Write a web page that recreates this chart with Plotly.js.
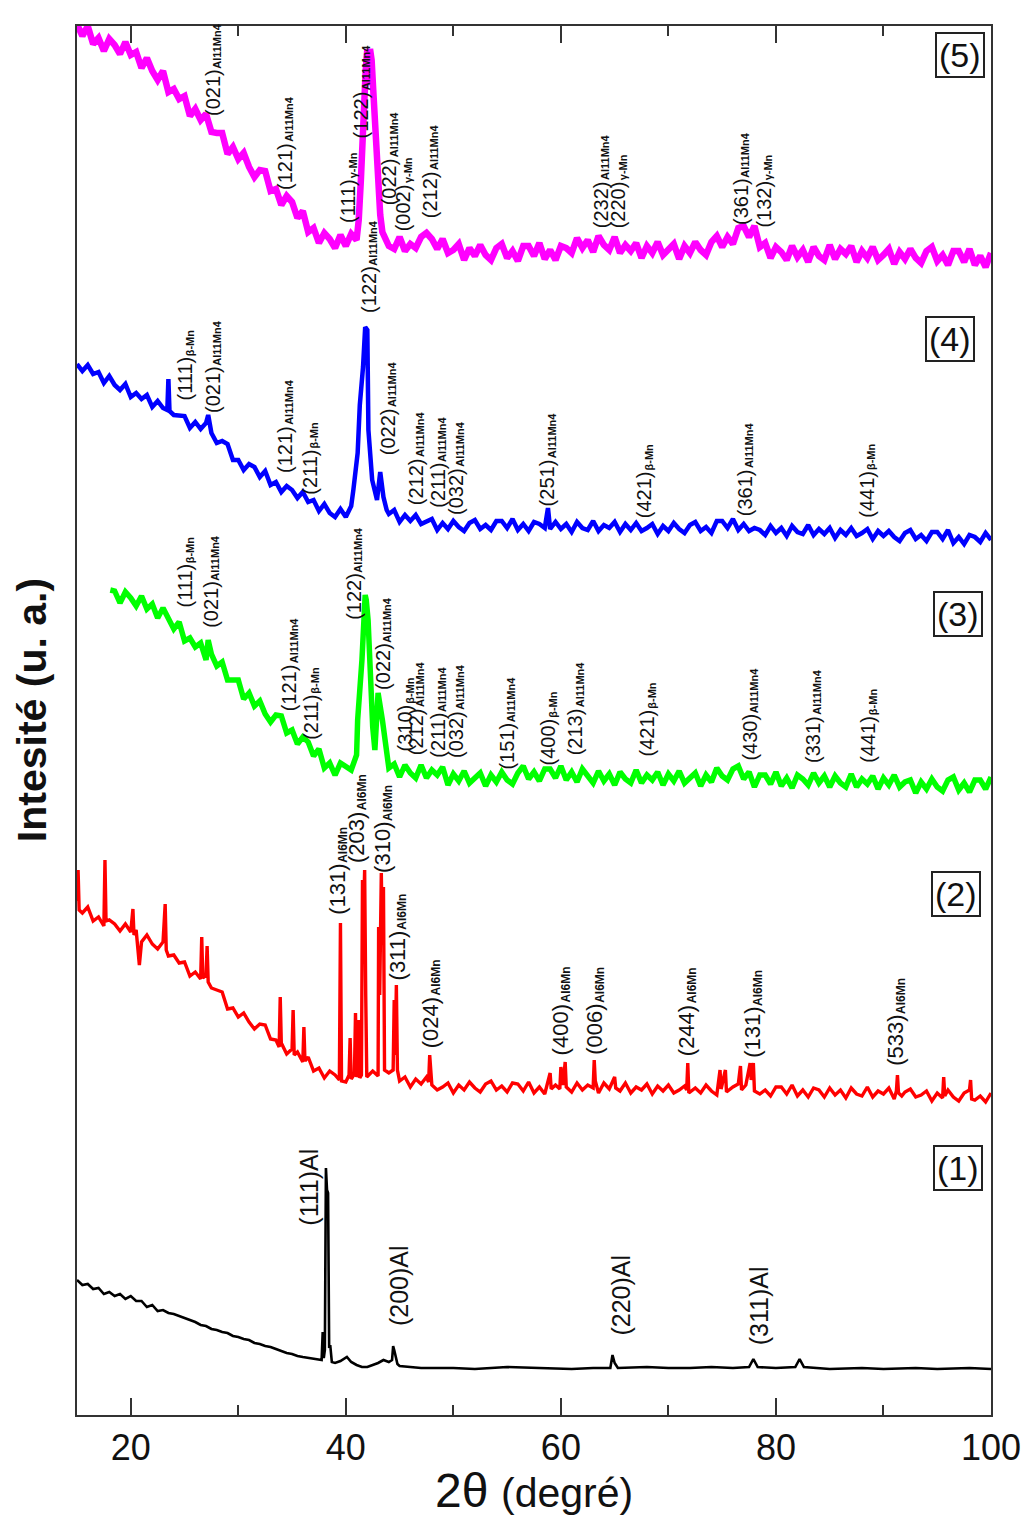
<!DOCTYPE html>
<html>
<head>
<meta charset="utf-8">
<script src="https://cdn.plot.ly/plotly-3.0.1.min.js"></script>
<style>
  html, body { margin: 0; padding: 0; background: #fff; }
  #chart { width: 1030px; height: 1521px; }
</style>
</head>
<body>
<div id="chart"></div>
<script>
// XRD scans, 2θ (degrees) vs intensity (arbitrary units, offset stacked).
// Each scan is a list of [2θ, intensity] points.

const scan1 = [[15,135],[15.5,130],[16,131],[16.5,126],[17,127],[17.5,121],[18,123],[18.5,119],[19,121],[19.5,116],[20,119],[20.5,114],[21,114],[21.5,108],[22,110],[22.5,104],[23,105],[23.5,102],[24,101],[24.5,99],[25,97],[25.5,95],[26,93],[26.5,90],[27,89],[27.5,86],[28,85],[28.5,83],[29,82],[29.5,79],[30,78],[30.5,76],[31,75],[31.5,72],[32,71],[32.5,69],[33,68],[33.5,66],[34,64],[34.5,62],[35,61],[35.5,59],[36,58],[36.5,57],[37,56],[37.5,55],[37.75,55],[37.85,83],[37.95,57],[38.05,65],[38.15,247],[38.25,225],[38.35,222],[38.45,67],[38.55,70],[38.7,53],[39,52],[39.5,54],[40.1,58],[40.5,53],[41,50],[41.5,48],[42,48],[42.5,50],[43,52],[43.5,55],[44,53],[44.3,55],[44.4,69],[44.5,65],[44.8,51],[45,49],[46,48],[47,47],[48,47],[50,47],[52,46],[55,48],[58,47],[61,46],[63,47],[64.6,47],[64.8,60],[65,52],[65.3,47],[68,48],[70,47],[72,47],[74,48],[76,47],[77.5,48],[77.9,56],[78.3,48],[80,47],[81.8,48],[82.2,56],[82.6,48],[85,46],[88,47],[90,46],[93,47],[95,46],[98,47],[100,46]];

const scan2 = [[15,514],[15.1,545],[15.2,505],[15.5,502],[16,508],[16.5,494],[17,498],[17.5,489],[17.6,555],[17.7,494],[18,495],[18.5,491],[19,484],[19.5,491],[20,483],[20.2,506],[20.3,480],[20.5,485],[20.8,450],[21,473],[21.5,480],[22,471],[22.5,466],[23,473],[23.2,511],[23.3,465],[23.5,459],[24,460],[24.5,452],[25,453],[25.5,439],[26,443],[26.5,436],[26.6,478],[26.7,437],[27,440],[27.1,469],[27.2,433],[27.5,427],[28,425],[28.5,423],[29,406],[29.5,407],[30,398],[30.5,402],[31,393],[31.5,386],[32,391],[32.5,390],[33,376],[33.5,375],[33.8,368],[33.9,418],[34,372],[34.5,361],[35,366],[35.1,405],[35.2,360],[35.5,363],[36,353],[36.1,388],[36.2,354],[36.5,358],[37,344],[37.5,347],[38,337],[38.5,344],[39,340],[39.4,335],[39.5,492],[39.6,334],[40,333],[40.3,340],[40.4,377],[40.5,336],[40.8,341],[40.9,402],[41,338],[41.1,342],[41.2,395],[41.3,337],[41.45,340],[41.55,535],[41.65,500],[41.75,545],[41.85,420],[41.95,338],[42.5,344],[43,339],[43.05,488],[43.15,420],[43.3,542],[43.4,470],[43.5,528],[43.6,345],[44,342],[44.4,345],[44.5,415],[44.6,360],[44.7,430],[44.8,345],[45,334],[45.5,338],[46,328],[46.5,336],[47,331],[47.5,338],[47.7,333],[47.8,360],[47.9,345],[48,330],[48.5,325],[49,328],[49.5,332],[50,322],[50.5,330],[51,325],[51.5,333],[52,327],[52.5,323],[53,331],[53.5,334],[54,325],[54.5,329],[55,323],[55.5,332],[56,331],[56.5,324],[57,333],[57.5,322],[58,328],[58.5,321],[59,342],[59.1,326],[59.5,330],[59.9,326],[60,348],[60.2,330],[60.4,353],[60.5,328],[61,323],[61.5,332],[62,325],[62.5,330],[63,327],[63.1,355],[63.2,334],[63.5,322],[64,332],[64.5,326],[65,338],[65.1,327],[65.5,324],[66,332],[66.5,322],[67,328],[67.5,325],[68,331],[68.5,321],[69,329],[69.5,324],[70,330],[70.5,322],[71,325],[71.5,329],[71.7,325],[71.8,352],[71.9,322],[72.5,327],[73,322],[73.5,330],[74,324],[74.5,320],[74.8,345],[74.9,326],[75.3,345],[75.4,323],[76,328],[76.5,331],[76.7,349],[76.8,325],[77.2,330],[77.6,352],[77.7,335],[77.9,352],[78,324],[78.5,321],[79,325],[79.5,319],[80,328],[80.5,328],[81,321],[81.5,330],[82,319],[82.5,325],[83,318],[83.5,327],[84,325],[84.5,318],[85,327],[85.5,320],[86,325],[86.5,317],[87,327],[87.5,321],[88,319],[88.5,328],[89,318],[89.5,324],[90,321],[90.5,327],[91,316],[91.2,324],[91.3,340],[91.4,322],[91.7,319],[92,323],[92.5,326],[93,318],[93.5,320],[94,324],[94.5,314],[95,322],[95.5,317],[95.6,338],[95.7,319],[96,325],[96.5,318],[97,314],[97.5,322],[98,325],[98.1,335],[98.2,316],[98.5,315],[99,319],[99.5,313],[100,322]];

const scan3 = [[18.1,825],[18.5,824],[19,812],[19.5,823],[20,817],[20.5,809],[21,819],[21.5,806],[22,811],[22.5,797],[23,807],[23.5,797],[24,786],[24.5,793],[25,774],[25.5,777],[26,768],[26.5,772],[27,755],[27.2,775],[27.5,761],[28,749],[28.5,753],[29,735],[29.5,735],[30,735],[30.5,716],[31,722],[31.5,709],[32,714],[32.5,701],[33,693],[33.5,700],[34,699],[34.5,682],[35,685],[35.5,671],[36,678],[36.5,673],[37,659],[37.5,666],[38,647],[38.5,652],[39,640],[39.5,652],[40,648],[40.5,645],[41,660],[41.1,695],[41.5,755],[41.8,820],[41.9,815],[42.07,795],[42.26,735],[42.5,688],[42.7,665],[43,722],[43.4,695],[43.8,655],[44,647],[44.5,651],[45,638],[45.5,650],[46,642],[46.5,637],[47,650],[47.5,637],[48,645],[48.5,640],[49,648],[49.5,630],[50,641],[50.5,634],[51,644],[51.5,632],[52,637],[52.5,642],[53,629],[53.5,640],[54,633],[54.5,643],[55,635],[55.5,631],[56,642],[56.5,649],[57,636],[57.5,643],[58,634],[58.5,646],[59,646],[59.5,637],[60,649],[60.5,635],[61,643],[61.5,633],[62,646],[62.5,638],[63,632],[63.5,644],[64,634],[64.5,641],[65,630],[65.5,643],[66,636],[66.5,632],[67,645],[67.5,632],[68,640],[68.5,635],[69,643],[69.5,630],[70,641],[70.5,634],[71,644],[71.5,632],[72,637],[72.5,642],[73,629],[73.5,640],[74,633],[74.5,647],[75,639],[75.5,635],[76,646],[76.5,649],[77,636],[77.5,643],[78,628],[78.5,640],[79,640],[79.5,631],[80,643],[80.5,629],[81,637],[81.5,627],[82,640],[82.5,636],[83,630],[83.5,642],[84,632],[84.5,639],[85,628],[85.5,639],[86,632],[86.5,628],[87,641],[87.5,628],[88,636],[88.5,631],[89,639],[89.5,626],[90,637],[90.5,630],[91,640],[91.5,628],[92,633],[92.5,635],[93,622],[93.5,633],[94,626],[94.5,636],[95,628],[95.5,624],[96,635],[96.5,638],[97,625],[97.5,632],[98,623],[98.5,635],[99,635],[99.5,626],[100,638]];

const scan4 = [[15,1051],[15.5,1044],[16,1050],[16.5,1041],[17,1043],[17.5,1032],[18,1039],[18.5,1030],[19,1025],[19.5,1031],[20,1018],[20.5,1022],[21,1016],[21.5,1020],[22,1008],[22.5,1014],[23,1007],[23.4,1005],[23.5,1036],[23.6,1004],[24,1000],[24.5,999],[25,999],[25.5,987],[26,993],[26.5,986],[27,992],[27.2,1000],[27.4,985],[27.5,982],[28,972],[28.5,974],[29,971],[29.5,955],[30,955],[30.5,945],[31,951],[31.5,948],[32,938],[32.5,944],[33,930],[33.5,933],[34,923],[34.5,929],[35,925],[35.5,917],[36,923],[36.5,913],[37,915],[37.5,904],[38,911],[38.5,902],[39,898],[39.5,906],[40,898],[40.5,909],[40.7,925],[41.1,962],[41.3,1010],[41.6,1048],[41.8,1088],[42,1085],[42.1,985],[42.45,935],[42.9,915],[43.2,943],[43.5,918],[43.8,905],[44,901],[44.5,905],[45,893],[45.5,900],[46,894],[46.5,900],[47,891],[47.5,893],[48,896],[48.5,885],[49,892],[49.5,886],[50,894],[50.5,888],[51,884],[51.5,892],[52,895],[52.5,886],[53,890],[53.5,885],[54,894],[54.5,894],[55,887],[55.5,896],[56,885],[56.5,891],[57,884],[57.5,893],[58,891],[58.5,887],[58.8,907],[59,886],[59.5,893],[60,886],[60.5,891],[61,883],[61.5,893],[62,887],[62.5,885],[63,894],[63.5,884],[64,890],[64.5,887],[65,893],[65.5,883],[66,891],[66.5,885],[67,892],[67.5,884],[68,887],[68.5,891],[69,881],[69.5,889],[70,884],[70.5,892],[71,886],[71.5,882],[72,890],[72.5,893],[73,884],[73.5,888],[74,882],[74.5,894],[75,894],[75.5,887],[76,896],[76.5,885],[77,891],[77.5,884],[78,887],[78.5,885],[79,880],[79.5,889],[80,882],[80.5,887],[81,879],[81.5,889],[82,883],[82.5,881],[83,890],[83.5,880],[84,886],[84.5,881],[85,887],[85.5,877],[86,885],[86.5,880],[87,887],[87.5,879],[88,882],[88.5,886],[89,876],[89.5,884],[90,879],[90.5,884],[91,878],[91.5,874],[92,882],[92.5,885],[93,876],[93.5,880],[94,874],[94.5,883],[95,883],[95.5,876],[96,885],[96.5,872],[97,878],[97.5,871],[98,880],[98.5,878],[99,873],[99.5,882],[100,875]];

const scan5 = [[15,1391],[15.5,1379],[16,1389],[16.5,1371],[17,1377],[17.5,1364],[18,1376],[18.5,1370],[19,1361],[19.5,1373],[20,1360],[20.5,1363],[21,1347],[21.5,1357],[22,1344],[22.5,1335],[23,1344],[23.5,1323],[24,1326],[24.5,1316],[25,1319],[25.5,1299],[26,1306],[26.5,1295],[27,1301],[27.5,1283],[28,1282],[28.5,1282],[29,1261],[29.5,1268],[30,1256],[30.5,1262],[31,1248],[31.5,1238],[32,1245],[32.5,1244],[33,1224],[33.5,1226],[34,1210],[34.5,1219],[35,1213],[35.5,1197],[36,1204],[36.5,1183],[37,1187],[37.5,1172],[38,1182],[38.5,1176],[39,1167],[39.5,1180],[40,1169],[40.5,1181],[41,1175],[41.2,1195],[41.4,1235],[41.55,1285],[41.7,1320],[41.85,1345],[42,1366],[42.12,1330],[42.25,1366],[42.4,1355],[42.55,1325],[42.7,1295],[42.85,1265],[43,1230],[43.2,1200],[43.4,1183],[43.7,1175],[44,1169],[44.5,1166],[45,1178],[45.5,1164],[46,1171],[46.5,1167],[47,1178],[47.5,1182],[48,1176],[48.5,1166],[49,1176],[49.5,1162],[50,1165],[50.5,1171],[51,1155],[51.5,1167],[52,1159],[52.5,1170],[53,1160],[53.5,1155],[54,1167],[54.5,1171],[55,1157],[55.5,1164],[56,1154],[56.5,1169],[57,1169],[57.5,1159],[58,1172],[58.5,1156],[59,1165],[59.5,1155],[60,1169],[60.5,1167],[61,1162],[61.5,1177],[62,1167],[62.5,1175],[63,1163],[63.5,1179],[64,1170],[64.5,1165],[65,1178],[65.5,1162],[66,1170],[66.5,1164],[67,1172],[67.5,1157],[68,1169],[68.5,1162],[69,1173],[69.5,1160],[70,1165],[70.5,1171],[71,1156],[71.5,1169],[72,1162],[72.5,1173],[73,1165],[73.5,1160],[74,1173],[74.5,1179],[75,1168],[75.5,1178],[76,1171],[76.5,1187],[77,1189],[77.5,1178],[78,1189],[78.5,1168],[79,1172],[79.5,1157],[80,1168],[80.5,1163],[81,1155],[81.5,1169],[82,1158],[82.5,1165],[83,1153],[83.5,1168],[84,1159],[84.5,1155],[85,1170],[85.5,1156],[86,1166],[86.5,1161],[87,1169],[87.5,1153],[88,1164],[88.5,1157],[89,1168],[89.5,1155],[90,1160],[90.5,1166],[91,1151],[91.5,1163],[92,1156],[92.5,1166],[93,1157],[93.5,1152],[94,1164],[94.5,1168],[95,1154],[95.5,1160],[96,1150],[96.5,1164],[97,1164],[97.5,1153],[98,1166],[98.5,1150],[99,1159],[99.5,1148],[100,1162]];

// Peak indexing: [2θ, label baseline (intensity units), (hkl), phase]
const peaks1 = [[36.5,187,'(111)','Al'],[44.9,87,'(200)','Al'],[65.5,77,'(220)','Al'],[78.4,68,'(311)','Al']];

const peaks2 = [[39.2,498,'(131)','Al6Mn'],[41.0,550,'(203)','Al6Mn'],[43.4,540,'(310)','Al6Mn'],[44.8,433,'(311)','Al6Mn'],[47.9,365,'(024)','Al6Mn'],[60.0,358,'(400)','Al6Mn'],[63.1,358,'(006)','Al6Mn'],[71.7,357,'(244)','Al6Mn'],[77.8,355,'(131)','Al6Mn'],[91.1,347,'(533)','Al6Mn']];

const peaks3 = [[25.0,805,'(111)','β-Mn'],[27.4,785,'(021)','Al11Mn4'],[34.7,702,'(121)','Al11Mn4'],[36.7,673,'(211)','β-Mn'],[40.7,793,'(122)','Al11Mn4'],[43.4,723,'(022)','Al11Mn4'],[45.5,662,'(310)','β-Mn'],[46.5,658,'(212)','Al11Mn4'],[48.5,655,'(211)','Al11Mn4'],[50.2,655,'(032)','Al11Mn4'],[54.9,643,'(151)','Al11Mn4'],[58.8,648,'(400)','β-Mn'],[61.3,658,'(213)','Al11Mn4'],[68.0,657,'(421)','β-Mn'],[77.5,652,'(430)','Al11Mn4'],[83.4,650,'(331)','Al11Mn4'],[88.5,650,'(441)','β-Mn']];

const peaks4 = [[25.0,1012,'(111)','β-Mn'],[27.6,1000,'(021)','Al11Mn4'],[34.3,940,'(121)','Al11Mn4'],[36.6,918,'(211)','β-Mn'],[42.1,1100,'(122)','Al11Mn4'],[43.9,958,'(022)','Al11Mn4'],[46.5,908,'(212)','Al11Mn4'],[48.5,905,'(211)','Al11Mn4'],[50.2,898,'(032)','Al11Mn4'],[58.7,907,'(251)','Al11Mn4'],[67.7,895,'(421)','β-Mn'],[77.1,897,'(361)','Al11Mn4'],[88.4,895,'(441)','β-Mn']];

const peaks5 = [[27.6,1297,'(021)','Al11Mn4'],[34.3,1223,'(121)','Al11Mn4'],[40.2,1190,'(111)','γ-Mn'],[41.4,1275,'(122)','Al11Mn4'],[44.0,1208,'(022)','Al11Mn4'],[45.3,1182,'(002)','γ-Mn'],[47.8,1195,'(212)','Al11Mn4'],[63.7,1185,'(232)','Al11Mn4'],[65.3,1185,'(220)','γ-Mn'],[76.7,1188,'(361)','Al11Mn4'],[78.8,1185,'(132)','γ-Mn']];

const sampleNames = ['(1)', '(2)', '(3)', '(4)', '(5)'];
const sampleTagAt = [[96.9,247],[96.7,521],[96.9,801],[96.2,1076],[97.1,1360]];

const xTitle = '2θ';
const xUnit = '(degré)';
const yTitle = 'Intesité (u. a.)';

const FONT = 'Liberation Sans, Arial, sans-serif';

const scans = [scan1, scan2, scan3, scan4, scan5];
const colors = ['#000000', '#ff0000', '#00ff00', '#0000ff', '#ff00ff'];
const widths = [2.6, 3.4, 5.5, 4.5, 6.5];

const traces = scans.map((s, i) => ({
  type: 'scatter',
  mode: 'lines',
  x: s.map(p => p[0]),
  y: s.map(p => p[1]),
  line: { color: colors[i], width: widths[i] },
  hoverinfo: 'skip',
  showlegend: false
}));

// Text measuring, so the small phase name sits right after the (hkl) part
const measureCtx = document.createElement('canvas').getContext('2d');
function textLength(str, size) {
  measureCtx.font = size + 'px "Liberation Sans", Arial, sans-serif';
  return measureCtx.measureText(str).width;
}

const annotations = [];

function addPeakLabel(rec, size, subSize, subShift, plain) {
  const [ang, yb, hkl, phase] = rec;
  if (plain) {
    annotations.push({
      x: ang, y: yb, xref: 'x', yref: 'y', text: hkl + phase,
      textangle: -90, showarrow: false, xanchor: 'center', yanchor: 'bottom',
      font: { family: FONT, size: size, color: '#111' }
    });
    return;
  }
  const len = textLength(hkl, size);
  annotations.push({
    x: ang, y: yb, xref: 'x', yref: 'y', text: hkl,
    textangle: -90, showarrow: false, xanchor: 'center', yanchor: 'bottom',
    font: { family: FONT, size: size, color: '#111' }
  });
  annotations.push({
    x: ang, y: yb + len + 1, xref: 'x', yref: 'y', text: '<b>' + phase + '</b>',
    xshift: subShift,
    textangle: -90, showarrow: false, xanchor: 'center', yanchor: 'bottom',
    font: { family: FONT, size: subSize, color: '#111' }
  });
}

peaks1.forEach(r => addPeakLabel(r, 25, 0, 0, true));
peaks2.forEach(r => addPeakLabel(r, 22, 12, 5, false));
peaks3.forEach(r => addPeakLabel(r, 20, 11, 5, false));
peaks4.forEach(r => addPeakLabel(r, 20, 11, 5, false));
peaks5.forEach(r => addPeakLabel(r, 20, 11, 5, false));

sampleNames.forEach((name, i) => {
  annotations.push({
    x: sampleTagAt[i][0], y: sampleTagAt[i][1], xref: 'x', yref: 'y',
    text: name, showarrow: false, xanchor: 'center', yanchor: 'middle',
    font: { family: FONT, size: 34, color: '#111' },
    bordercolor: '#222', borderwidth: 2, borderpad: 2, bgcolor: 'rgba(255,255,255,0)'
  });
});

// Axis titles
annotations.push({
  xref: 'paper', yref: 'paper', x: 0.421, y: -0.054,
  xanchor: 'center', yanchor: 'middle', showarrow: false,
  text: xTitle, font: { family: FONT, size: 48, color: '#111' }
});
annotations.push({
  xref: 'paper', yref: 'paper', x: 0.536, y: -0.056,
  xanchor: 'center', yanchor: 'middle', showarrow: false,
  text: xUnit, font: { family: FONT, size: 41, color: '#111' }
});
annotations.push({
  xref: 'paper', yref: 'paper', x: -0.049, y: 0.5076,
  xanchor: 'center', yanchor: 'middle', showarrow: false, textangle: -90,
  text: '<b>' + yTitle + '</b>',
  font: { family: FONT, size: 41, color: '#111' }
});

const layout = {
  width: 1030, height: 1521,
  margin: { l: 77, r: 39, t: 26, b: 106 },
  paper_bgcolor: '#ffffff', plot_bgcolor: '#ffffff',
  showlegend: false,
  xaxis: {
    range: [15, 100], tick0: 0, dtick: 20,
    ticks: 'inside', ticklen: 17, tickwidth: 2, tickcolor: '#333',
    minor: { tick0: 0, dtick: 10, ticks: 'inside', ticklen: 10, tickwidth: 2, tickcolor: '#333' },
    showline: true, linewidth: 2, linecolor: '#333', mirror: 'ticks',
    showgrid: false, zeroline: false,
    tickfont: { family: FONT, size: 36, color: '#111' }
  },
  yaxis: {
    range: [0, 1389], showticklabels: false, ticks: '',
    showline: true, linewidth: 2, linecolor: '#333', mirror: true,
    showgrid: false, zeroline: false
  },
  annotations: annotations
};

Plotly.newPlot('chart', traces, layout, { staticPlot: true, displayModeBar: false });
</script>
</body>
</html>
